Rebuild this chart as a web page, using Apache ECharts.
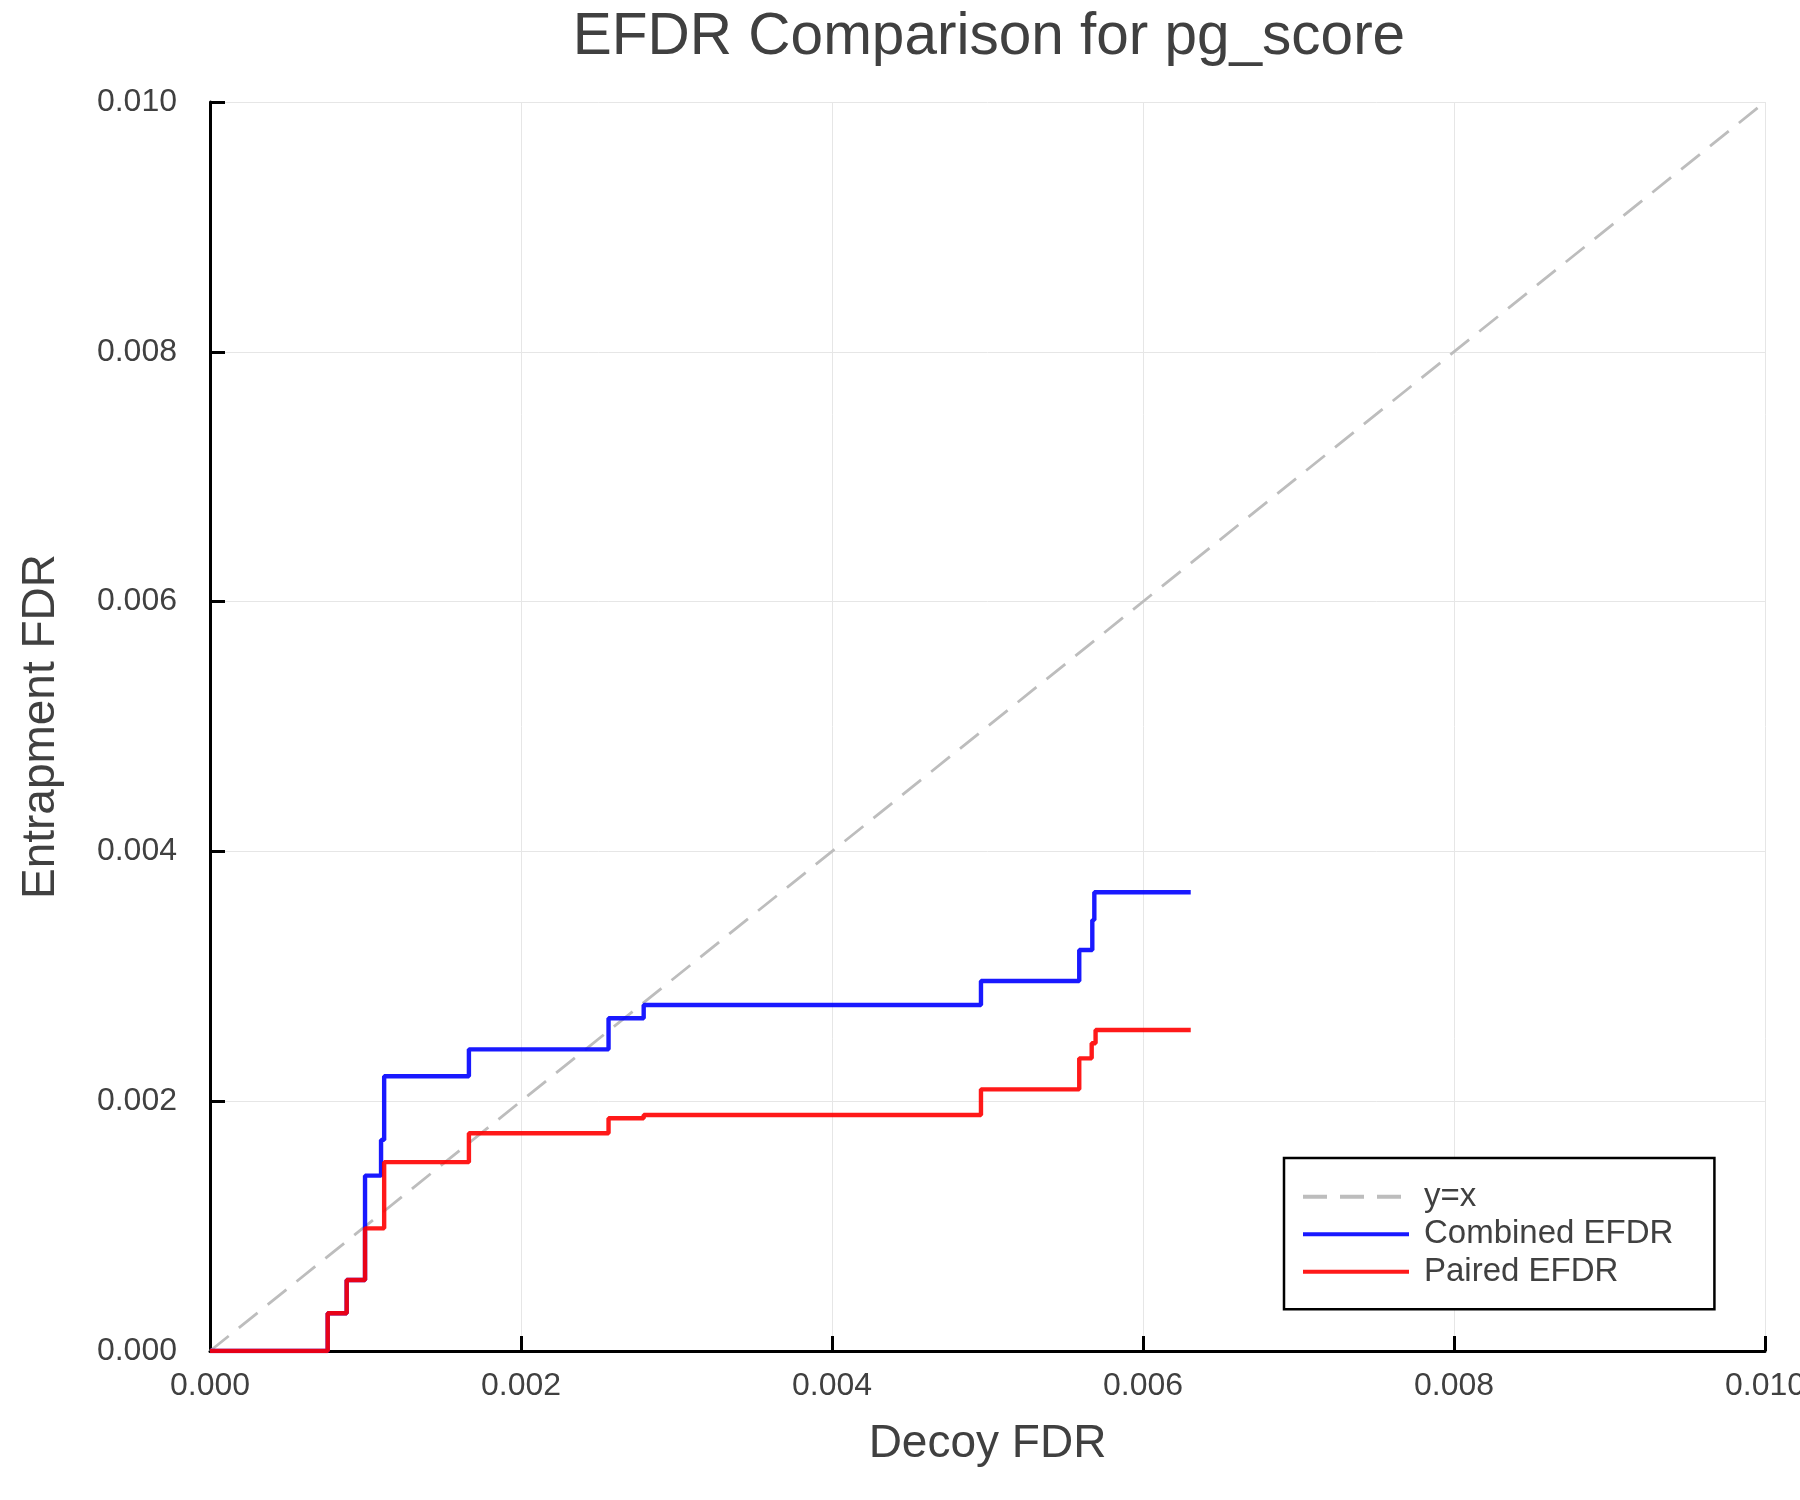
<!DOCTYPE html>
<html>
<head>
<meta charset="utf-8">
<script src="https://cdn.jsdelivr.net/npm/echarts@6/dist/echarts.min.js"></script>
<style>
html,body{margin:0;padding:0;background:#fff;overflow:hidden;}
#chart{width:1800px;height:1500px;}
</style>
</head>
<body>
<div id="chart"></div>
<script>
// ---- data ----
const titleText = 'EFDR Comparison for pg_score';
const xName = 'Decoy FDR';
const yName = 'Entrapment FDR';
const seriesNames = ['y=x', 'Combined EFDR', 'Paired EFDR'];

// y = x reference line
const diagX = [0, 0.01];
const diagY = [0, 0.01];

// Combined EFDR: decoy FDR at each step, and the value reached there
const combinedX = [0, 0.000757, 0.000879, 0.000997, 0.00110, 0.00112, 0.001665, 0.002563, 0.002789, 0.004958, 0.00559, 0.005674, 0.005687, 0.006307];
const combinedY = [0, 0.000302, 0.000568, 0.001404, 0.00169, 0.00220, 0.002415, 0.002664, 0.002770, 0.002962, 0.00321, 0.003450, 0.003673, 0.003673];

// Paired EFDR
const pairedX = [0, 0.000757, 0.000879, 0.000997, 0.00112, 0.001665, 0.002563, 0.002789, 0.004958, 0.00559, 0.005670, 0.005695, 0.006307];
const pairedY = [0, 0.000302, 0.000568, 0.000982, 0.001512, 0.001743, 0.001863, 0.001890, 0.002095, 0.002343, 0.002464, 0.002570, 0.002570];

const xTicks = [0, 0.002, 0.004, 0.006, 0.008, 0.010];
const yTicks = [0, 0.002, 0.004, 0.006, 0.008, 0.010];

// ---- build ----
const zip = (a, b) => a.map((v, i) => [v, b[i]]);
const FONT = '"Liberation Sans", Arial, Helvetica, sans-serif';
const TXT = '#404040';

const chart = echarts.init(document.getElementById('chart'), null, {renderer: 'canvas'});
const option = {
  animation: false,
  backgroundColor: '#ffffff',
  textStyle: {fontFamily: FONT},
  title: {
    text: titleText,
    left: 984,
    top: 3,
    textAlign: 'center',
    textStyle: {fontFamily: FONT, fontSize: 58.5, fontWeight: 'normal', color: TXT}
  },
  grid: {left: 210, right: 35, top: 102, bottom: 149, containLabel: false, outerBoundsMode: 'none'},
  legend: {
    orient: 'vertical',
    left: 1284,
    top: 1158,
    data: seriesNames,
    itemWidth: 106,
    itemHeight: 2,
    itemGap: 3.5,
    padding: [21.7, 41, 20.6, 17],
    borderColor: '#000000',
    borderWidth: 2.5,
    backgroundColor: '#ffffff',
    selectedMode: false,
    itemStyle: {opacity: 0},
    lineStyle: {width: 4},
    textStyle: {fontFamily: FONT, fontSize: 33, color: TXT, lineHeight: 34, padding: [0, 0, 0, 10]}
  },
  xAxis: {
    type: 'value',
    min: xTicks[0],
    max: xTicks[xTicks.length - 1],
    interval: xTicks[1] - xTicks[0],
    name: xName,
    nameLocation: 'middle',
    nameGap: 70,
    nameTextStyle: {fontFamily: FONT, fontSize: 46, color: TXT},
    axisLine: {show: true, onZero: false, lineStyle: {color: '#000', width: 3}},
    axisTick: {show: true, inside: true, length: 15, lineStyle: {color: '#000', width: 3}},
    axisLabel: {margin: 19, fontFamily: FONT, fontSize: 32, color: TXT, formatter: v => v.toFixed(3)},
    splitLine: {show: true, lineStyle: {color: '#e6e6e6', width: 1}}
  },
  yAxis: {
    type: 'value',
    min: yTicks[0],
    max: yTicks[yTicks.length - 1],
    interval: yTicks[1] - yTicks[0],
    name: yName,
    nameLocation: 'middle',
    nameGap: 146,
    nameRotate: 90,
    nameTextStyle: {fontFamily: FONT, fontSize: 46, color: TXT},
    axisLine: {show: true, onZero: false, lineStyle: {color: '#000', width: 3}},
    axisTick: {show: true, inside: true, length: 15, lineStyle: {color: '#000', width: 3}},
    axisLabel: {margin: 33, fontFamily: FONT, fontSize: 32, color: TXT, formatter: v => v.toFixed(3)},
    splitLine: {show: true, lineStyle: {color: '#e6e6e6', width: 1}}
  },
  series: [
    {
      name: seriesNames[0],
      type: 'line',
      data: zip(diagX, diagY),
      showSymbol: false,
      symbol: 'none',
      lineStyle: {color: '#bdbdbd', width: 2.8, type: [24, 13]},
      itemStyle: {color: '#bdbdbd'},
      z: 2
    },
    {
      name: seriesNames[1],
      type: 'line',
      step: 'end',
      data: zip(combinedX, combinedY),
      showSymbol: false,
      symbol: 'none',
      lineStyle: {color: '#0000ff', width: 4.4, opacity: 0.9},
      itemStyle: {color: '#1919ff'},
      z: 3
    },
    {
      name: seriesNames[2],
      type: 'line',
      step: 'end',
      data: zip(pairedX, pairedY),
      showSymbol: false,
      symbol: 'none',
      lineStyle: {color: '#ff0000', width: 4.4, opacity: 0.9},
      itemStyle: {color: '#ff1919'},
      z: 4
    }
  ]
};
chart.setOption(option);
</script>
</body>
</html>
